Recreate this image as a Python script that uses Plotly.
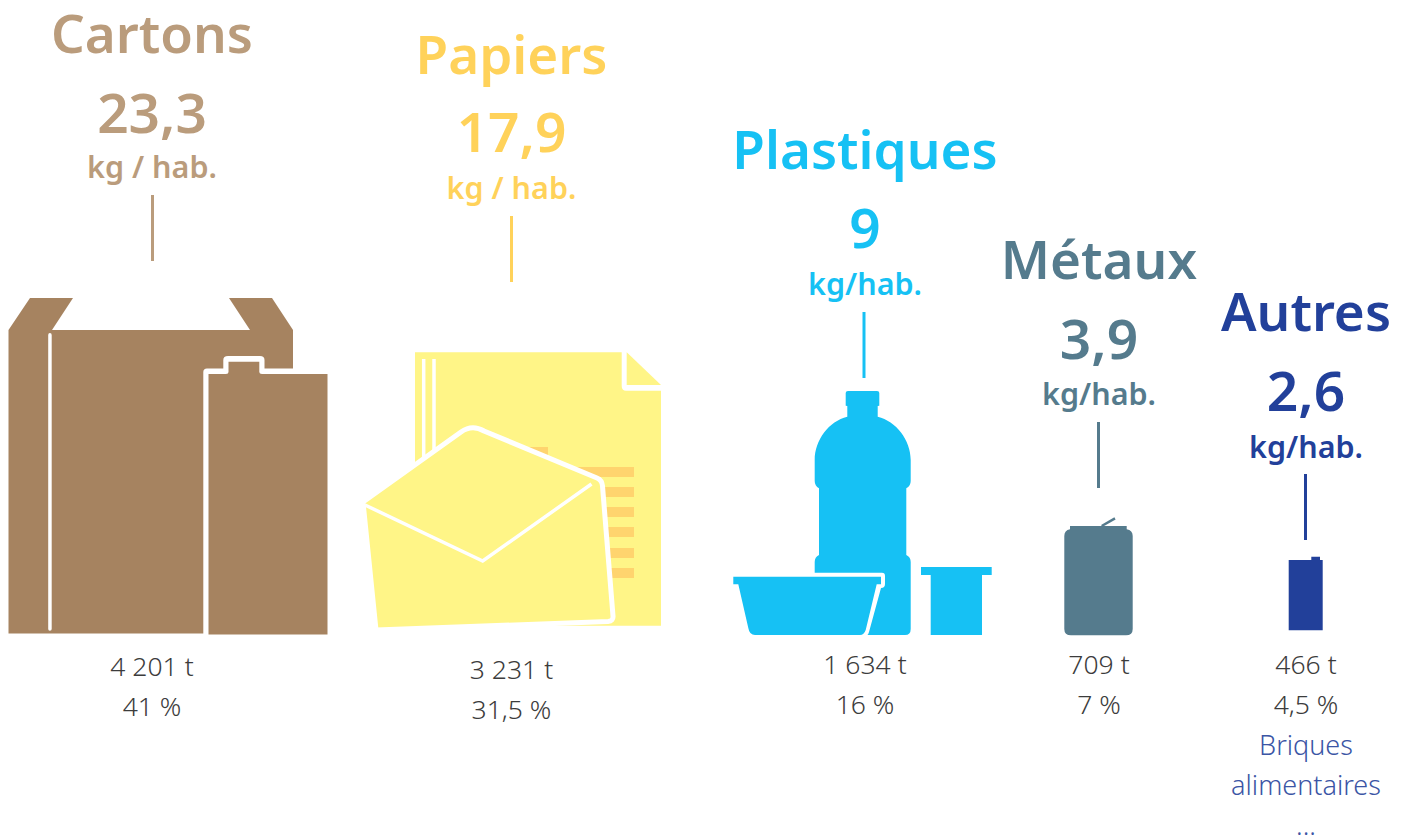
import plotly.graph_objects as go

# ---- data
categories = ["Cartons", "Papiers", "Plastiques", "Métaux", "Autres"]
kg_per_hab = [23.3, 17.9, 9, 3.9, 2.6]
kg_units = ["kg / hab.", "kg / hab.", "kg/hab.", "kg/hab.", "kg/hab."]
tonnes = [4201, 3231, 1634, 709, 466]
percents = [41, 31.5, 16, 7, 4.5]
extra_lines = ["Briques", "alimentaires", "..."]

# ---- styles and layout
title_colors = ["#BA9C7C", "#FFD25A", "#16C1F4", "#557B8D", "#22409A"]
x_center = [152, 511.5, 865, 1099, 1306]
y_title = [40, 61, 156, 266, 318]
y_value = [119, 138, 234, 345, 397]
y_unit = [170, 191, 287, 397, 450]
y_tonnes = [669, 672, 667, 667, 667]
y_pct = [709, 712, 707, 707, 707]
y_extra = [748, 788, 828]
x_line = [152.5, 511.5, 864, 1098.5, 1305.5]
y_line = [(195, 261), (216, 282), (312, 378), (422, 488), (474, 540)]
TITLE_FONT = "Noto Sans"
BODY_FONT = "Noto Sans"
BROWN, YELLOW, ORANGE, CYAN, SLATE, NAVY = "#A68360", "#FFF587", "#FFD46E", "#16C1F4", "#557B8D", "#22409A"
WHITE = "#FFFFFF"


def fmt_num(v):
    return str(v).replace(".", ",")


def fmt_t(v):
    s = str(v)
    return (s[:-3] + " " + s[-3:] if len(s) > 3 else s) + " t"


fig = go.Figure()


def text_trace(xs, ys, texts, colors, size, weight, family):
    fig.add_trace(go.Scatter(
        x=xs, y=ys, text=texts, mode="text", textposition="middle center",
        textfont=dict(family=family, size=size, color=colors, weight=weight),
        hoverinfo="skip", showlegend=False, cliponaxis=False))


text_trace(x_center, y_title, categories, title_colors, 53, 600, TITLE_FONT)
text_trace(x_center, y_value, [fmt_num(v) for v in kg_per_hab], title_colors, 55, 600, TITLE_FONT)
text_trace(x_center, y_unit, kg_units, title_colors, 30.5, 600, TITLE_FONT)
text_trace(x_center, y_tonnes, [fmt_t(v) for v in tonnes], "#3C3C3C", 26.5, 300, BODY_FONT)
text_trace(x_center, y_pct, [fmt_num(v) + " %" for v in percents], "#3C3C3C", 26.5, 300, BODY_FONT)
text_trace([x_center[4]] * 3, y_extra, extra_lines, "#3B55A5", 27, 300, BODY_FONT)

shapes = []


def path(d, fill, line=None, lw=0, layer="below"):
    s = dict(type="path", path=d, xref="x", yref="y", fillcolor=fill, layer=layer,
             line=dict(color=line or fill, width=lw))
    shapes.append(s)


def stroke(d, color, lw):
    shapes.append(dict(type="path", path=d, xref="x", yref="y", layer="below",
                       line=dict(color=color, width=lw)))


def rect(x0, y0, x1, y1, fill):
    shapes.append(dict(type="rect", x0=x0, y0=y0, x1=x1, y1=y1, xref="x", yref="y",
                       fillcolor=fill, layer="below", line=dict(width=0)))


# connector lines
for xl, (a, b), c in zip(x_line, y_line, title_colors):
    shapes.append(dict(type="line", x0=xl, x1=xl, y0=a, y1=b, xref="x", yref="y",
                       layer="below", line=dict(color=c, width=3)))

# cardboard box + carton
path("M8.5,330 L30,298 L73,298 L52,330 L250,330 L229,298 L272,298 L293,330 L293,370 "
     "L293,633.5 L8.5,633.5 Z", BROWN)
path("M49.9,333 Q51.7,333 51.7,335 L51.7,629 Q51.7,630.7 49.9,630.7 Q48.2,630.7 48.2,629 "
     "L48.2,335 Q48.2,333 49.9,333 Z", WHITE)
path("M203.3,636 L203.3,372 Q203.3,368.5 207,368.5 L223.3,368.5 L223.3,360 Q223.3,356 228,356 "
     "L260,356 Q264.5,356 264.5,360 L264.5,368.5 L329,368.5 L329,636 Z", WHITE)
path("M208.5,634.5 L208.5,374 L226,374 Q228.5,374 228.5,372 L228.5,361.7 L259.3,361.7 L259.3,372 "
     "Q259.3,374 262,374 L327.5,374 L327.5,634.5 Z", BROWN)

# sheet of paper
path("M415,352.3 L621.7,352.3 L621.7,386 Q621.7,390.7 626,390.7 L661,390.7 L661,625.7 L415,625.7 Z", YELLOW)
path("M626.7,352.3 L661,385 L626.7,385 Z", YELLOW)
stroke("M423.7,359 L423.7,463", WHITE, 3.5)
stroke("M434,359 L434,456", WHITE, 3.5)
rect(480, 447, 548, 457, ORANGE)
for a, b in [(467, 477), (487, 497), (507, 517), (527, 537), (548, 558), (568, 578)]:
    rect(480, a, 634, b, ORANGE)

# envelope
path("M363,502 L461,432 Q472,424 484,431 L597,478 Q602,480 602.5,486 L613,616 Q613.5,621 608,621.5 "
     "L376,630 Z", YELLOW, WHITE, 5)
path("M365,505 L482.7,561 L591.5,484", "rgba(0,0,0,0)", WHITE, 3.5)

# bottle, tub and pot
path("M845.7,393 Q845.7,391 848,391 L877,391 Q879.3,391 879.3,393 L879.3,405.7 L877.7,406 L877.7,416.7 "
     "C896,421 910.7,440 910.7,460 L910.7,481 Q910.7,486 906.3,488.3 L906.3,555 Q910.7,557 910.7,562 "
     "L910.7,629 Q910.7,635 905,635 L820,635 Q814.7,635 814.7,629 L814.7,562 Q814.7,557 819,555 "
     "L819,488.3 Q814.7,486 814.7,481 L814.7,460 C814.7,440 829,421 847.3,416.7 L847.3,406 L845.7,405.7 Z", CYAN)
path("M731,572.7 L882,572.7 Q885,572.7 885,576 L885,584 Q885,588 881,588 L869,632 Q868,637 862,637 "
     "L731,637 Z", WHITE)
path("M733.3,576.7 L881,576.7 L881,584.3 L876.7,584.3 L865.7,630 Q864,635 860,635 L755,635 "
     "Q749.5,635 748.3,628 L738.3,584.3 L733.3,584.3 Z", CYAN)
path("M921,567 L991.7,567 L991.7,575 L982,575 L982,635 L930.7,635 L930.7,575 L921,575 Z", CYAN)

# can
path("M1070,526 L1126.7,526 L1126.7,529.3 Q1132.7,530.5 1132.7,536 L1132.7,629 Q1132.7,635.3 1126,635.3 "
     "L1071,635.3 Q1064.3,635.3 1064.3,629 L1064.3,536 Q1064.3,530.5 1070,529.3 Z", SLATE)
stroke("M1101.7,526 L1115,518.3", SLATE, 2.5)

# brick
path("M1288.7,560 L1311.3,560 L1311.3,556.7 L1320,556.7 L1320,560 L1322.7,560 L1322.7,630.3 L1288.7,630.3 Z", NAVY)

fig.update_layout(
    width=1408, height=839, margin=dict(l=0, r=0, t=0, b=0),
    paper_bgcolor=WHITE, plot_bgcolor=WHITE, shapes=shapes, hovermode=False,
    xaxis=dict(range=[0, 1408], visible=False, fixedrange=True),
    yaxis=dict(range=[839, 0], visible=False, fixedrange=True),
)
fig.write_html("out.html", config=dict(displayModeBar=False),
               post_script="document.body.style.margin='0';document.body.style.overflow='hidden';")
